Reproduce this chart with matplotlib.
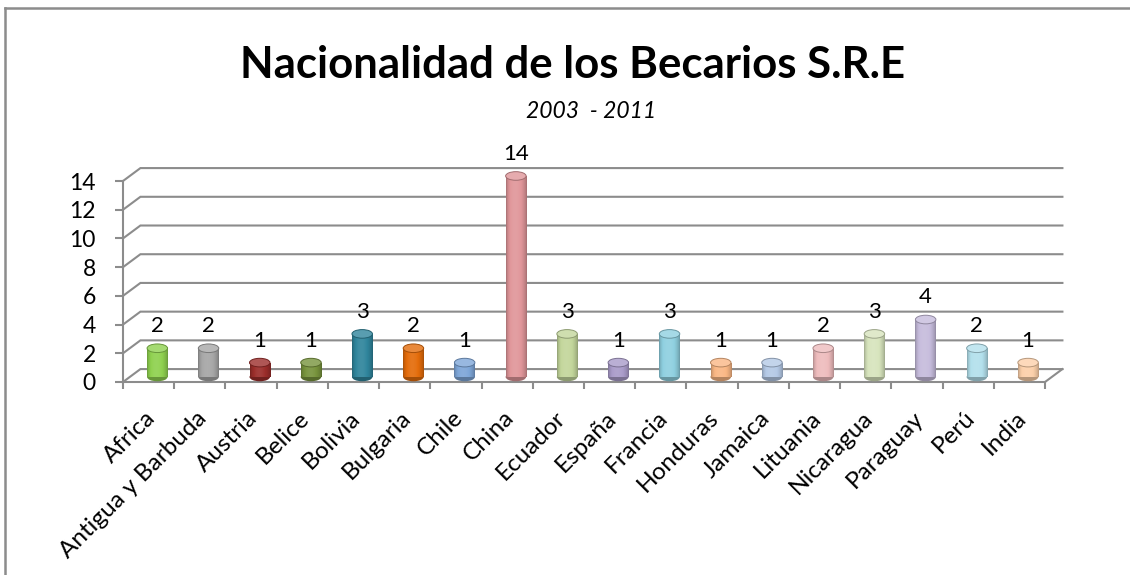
import numpy as np
import matplotlib.pyplot as plt
import matplotlib.transforms as mtransforms
from matplotlib.patches import Ellipse, Rectangle
from matplotlib.colors import to_rgb
from matplotlib.lines import Line2D

paises = ["Africa", "Antigua y Barbuda", "Austria", "Belice", "Bolivia",
          "Bulgaria", "Chile", "China", "Ecuador", "España", "Francia",
          "Honduras", "Jamaica", "Lituania", "Nicaragua", "Paraguay",
          "Perú", "India"]
becarios = [2, 2, 1, 1, 3, 2, 1, 14, 3, 1, 3, 1, 1, 2, 3, 4, 2, 1]
colores = ["#8fd14f", "#a6a6a6", "#9b2d2a", "#77933c", "#2f859c", "#e46c0a",
           "#7ea6d8", "#e0969a", "#c3d69b", "#a99bc9", "#8fd0e0", "#fab784",
           "#b4c9e6", "#eebcbd", "#d7e4bd", "#c6bcdc", "#b3e0ec", "#fcd0aa"]
y_ticks = list(range(0, 15, 2))

plt.rcParams['font.family'] = ['Lato', 'DejaVu Sans']

W, H = 1130, 575
fig = plt.figure(figsize=(W / 100, H / 100), dpi=100)

# frame of the chart (only top and left edges visible)
fig.add_artist(Line2D([5 / W, 5 / W], [0, 1 - 8 / H], transform=fig.transFigure,
                      color='#8c8c8c', lw=1.8))
fig.add_artist(Line2D([5 / W, 1], [1 - 8 / H, 1 - 8 / H], transform=fig.transFigure,
                      color='#8c8c8c', lw=1.8))

fig.text(573 / W, 1 - 65 / H, "Nacionalidad de los Becarios S.R.E",
         ha='center', va='center', fontsize=31.5, fontweight='bold')
fig.text(591 / W, 1 - 111 / H, "2003  - 2011", ha='center', va='center',
         fontsize=16.5, style='italic')

# front plane of the plot area (pixels)
x0, x1 = 123, 1045
y0, y14 = 382, 181
ax = fig.add_axes([x0 / W, 1 - y0 / H, (x1 - x0) / W, (y0 - y14) / H])
n = len(paises)

dx, dy = 0.34, 0.9   # depth of the 3d box in data units
grid_c = '#8c8c8c'

for v in y_ticks:
    ax.plot([0, dx, n + dx], [v, v + dy, v + dy], color=grid_c, lw=1.5,
            clip_on=False, zorder=1, solid_joinstyle='miter')
ax.plot([n, n + dx], [0, dy], color=grid_c, lw=1.5, clip_on=False, zorder=1)

# cylinders
w = 0.40
eh = 0.6
t = np.linspace(0, 1, 64)
shade = 0.72 + 0.42 * np.sin(np.pi * t) ** 0.6 * (1 - 0.3 * t)
for i, (val, col) in enumerate(zip(becarios, colores)):
    xc = i + 0.5 + dx / 2
    base = dy / 2 - 0.1
    rgb = np.array(to_rgb(col))
    grad = np.clip(rgb[None, :] * shade[:, None], 0, 1)
    grad = np.where(shade[:, None] > 1, rgb + (1 - rgb) * (shade[:, None] - 1), grad)
    img = np.repeat(grad[None, :, :], 2, axis=0)
    dark = rgb * 0.72
    ax.add_patch(Ellipse((xc, base), w, eh, facecolor=dark, edgecolor='none',
                         zorder=2, clip_on=False))
    body = Rectangle((xc - w / 2, base), w, val, facecolor='none',
                     edgecolor='none', zorder=3)
    ax.add_patch(body)
    im = ax.imshow(img, extent=(xc - w / 2, xc + w / 2, base, base + val),
                   aspect='auto', zorder=3, interpolation='bilinear')
    im.set_clip_path(body)
    top = rgb + (1 - rgb) * 0.2
    ax.add_patch(Ellipse((xc, base + val), w, eh, facecolor=top,
                         edgecolor=dark, lw=0.7, zorder=4, clip_on=False))
    ax.annotate(str(val), (xc, base + val + eh / 2), xytext=(0, 8.5),
                textcoords='offset points', ha='center', va='baseline',
                fontsize=16, annotation_clip=False)

ax.set_xlim(0, n)
ax.set_ylim(0, 14)

for s in ['top', 'right']:
    ax.spines[s].set_visible(False)
for s in ['left', 'bottom']:
    ax.spines[s].set_color(grid_c)
    ax.spines[s].set_linewidth(1.5)
    ax.spines[s].set_zorder(1)

ax.set_yticks(y_ticks)
ax.set_yticklabels([str(v) for v in y_ticks], fontsize=16.5)
ax.set_xticks(range(n + 1))
ax.set_xticklabels([])
ax.set_xticks(np.arange(n) + 0.5, minor=True)
ax.set_xticklabels(paises, minor=True, rotation=45, ha='right',
                   rotation_mode='anchor', fontsize=17.5)
ax.tick_params(axis='y', direction='out', length=6, width=1.5, color=grid_c, pad=13.5)
ax.tick_params(axis='x', which='major', direction='out', length=5, width=1.5,
               color=grid_c)
ax.tick_params(axis='x', which='minor', length=0, pad=18)
shift = mtransforms.ScaledTranslation(-4 / 100, 0, fig.dpi_scale_trans)
for lab in ax.get_xticklabels(minor=True):
    lab.set_transform(lab.get_transform() + shift)
ax.patch.set_visible(False)

fig.savefig("out.png", dpi=100)
